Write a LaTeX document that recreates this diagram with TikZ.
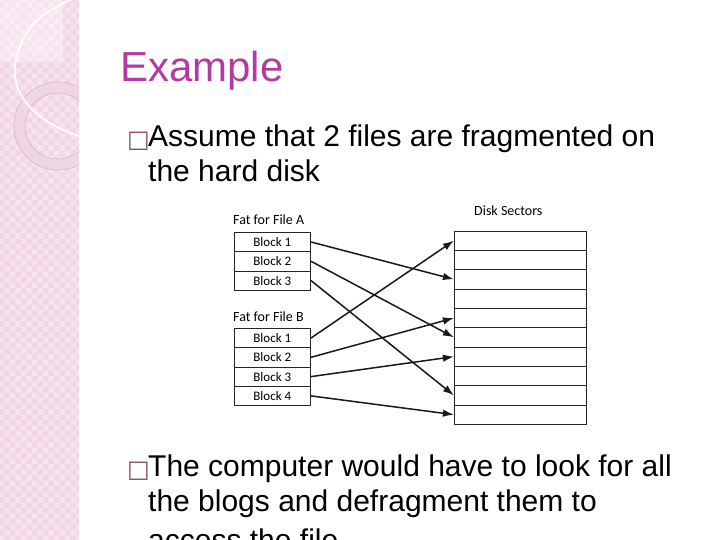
\documentclass[tikz,border=0pt]{standalone}
\usepackage{fontspec}
\setmainfont{Liberation Sans}
\newfontfamily\diagfont{Carlito}
\newfontfamily\symfont{DejaVu Sans}
\usetikzlibrary{arrows.meta,patterns}
\definecolor{titlemag}{RGB}{178,58,164}
\definecolor{bulletc}{RGB}{140,70,100}
\definecolor{stripbg}{RGB}{243,214,230}
\definecolor{stripchk}{RGB}{247,227,238}
\definecolor{ringfill}{RGB}{240,214,228}
\definecolor{ringline}{RGB}{214,180,200}
\tikzset{
  blk/.style={draw=black!85,line width=0.8pt,minimum width=76.7pt,minimum height=19.3pt,inner sep=0pt,font=\diagfont\fontsize{13}{15}\selectfont},
  sec/.style={draw=black!85,line width=0.8pt,minimum width=132.4pt,minimum height=19.33pt,inner sep=0pt},
  lbl/.style={anchor=base west,inner sep=0pt,font=\diagfont\fontsize{14}{16}\selectfont},
  arr/.style={-{Latex[length=11pt,width=7.5pt]},line width=1.5pt,draw=black!90},
  txt/.style={anchor=base west,inner sep=0pt,font=\fontsize{30}{35}\selectfont},
  bul/.style={anchor=base west,inner sep=0pt,text=bulletc,font=\symfont\fontsize{24}{28}\selectfont}
}
\begin{document}
\begin{tikzpicture}[x=1pt,y=-1pt]
\useasboundingbox (0,0) rectangle (720,540);
\clip (0,0) rectangle (720,540);
% decorative strip
\fill[stripbg] (0,0) rectangle (79,540);
\fill[pattern=checkerboard, pattern color=stripchk] (0,0) rectangle (79,540);
\fill[white,opacity=0.35] (0,0) rectangle (63,62);
\begin{scope}
  \clip (0,0) rectangle (79,540);
  \fill[ringfill,even odd rule] (58,126) circle (44pt) (58,126) circle (33pt);
  \draw[ringline,line width=0.6pt] (58,126) circle (44pt) (58,126) circle (33pt);
  \draw[white,line width=2pt,opacity=0.85] plot[smooth,tension=0.7] coordinates {(74,-2) (45,14) (27,33) (17,55) (15,75) (20,93) (33,110) (53,125) (81,137)};
\end{scope}
% title and text
\node[anchor=base west,inner sep=0pt,text=titlemag,font=\fontsize{42}{50}\selectfont] (title) at (120,82) {Example};
\node[bul] (bul1) at (127,148) {□};
\node[txt] (t1) at (148,147) {Assume that 2 files are fragmented on};
\node[txt] (t2) at (148,182) {the hard disk};
\node[bul] (bul2) at (127,477) {□};
\node[txt] (t3) at (148,476) {The computer would have to look for all};
\node[txt] (t4) at (148,511) {the blogs and defragment them to};
\node[txt] (t5) at (148,550) {access the file};
% diagram labels
\node[lbl] (la) at (233,224.3) {Fat for File A};
\node[lbl] (lb) at (233,321) {Fat for File B};
\node[lbl] (ls) at (474,215.7) {Disk Sectors};
% FAT A
\node[blk] (a1) at (272.3,242) {Block 1};
\node[blk] (a2) at (272.3,261.3) {Block 2};
\node[blk] (a3) at (272.3,280.6) {Block 3};
% FAT B
\node[blk] (b1) at (272.3,338) {Block 1};
\node[blk] (b2) at (272.3,357.3) {Block 2};
\node[blk] (b3) at (272.3,376.6) {Block 3};
\node[blk] (b4) at (272.3,395.9) {Block 4};
% disk sectors
\foreach \i in {1,...,10} {
  \node[sec] (s\i) at (520.5,{231+9.67+19.33*(\i-1)}) {};
}
% arrows
\draw[arr] (a1.east) -- (s3.west);
\draw[arr] (a2.east) -- (s6.west);
\draw[arr] (a3.east) -- (s9.west);
\draw[arr] (b1.east) -- (s1.west);
\draw[arr] (b2.east) -- (s5.west);
\draw[arr] (b3.east) -- (s7.west);
\draw[arr] (b4.east) -- (s10.west);
\end{tikzpicture}
\end{document}
